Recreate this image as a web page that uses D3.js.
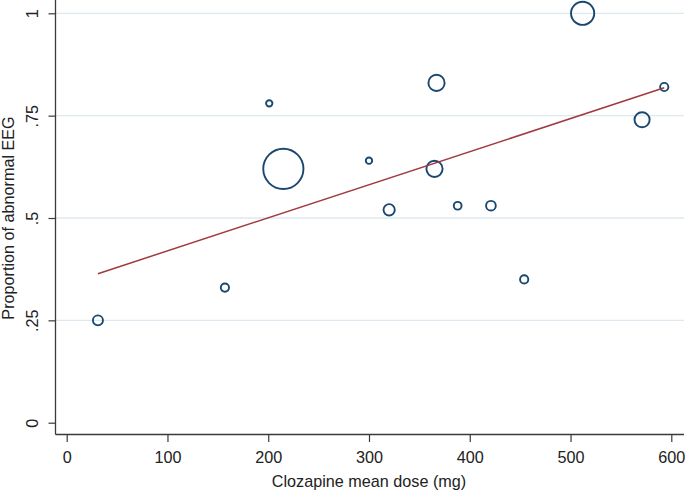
<!DOCTYPE html>
<html>
<head>
<meta charset="utf-8">
<script src="https://cdn.jsdelivr.net/npm/d3@7"></script>
<style>
  html, body { margin: 0; padding: 0; background: #fff; }
  svg { display: block; font-family: "Liberation Sans", Arial, Helvetica, sans-serif; }
</style>
</head>
<body>
<svg id="chart" width="685" height="492"></svg>
<script>
// Data
const doses       = [31, 157, 201, 215, 300, 320, 365, 367, 388, 421, 454, 512, 571, 593];
const proportions = [0.25, 0.33, 0.78, 0.62, 0.64, 0.52, 0.62, 0.83, 0.53, 0.53, 0.35, 1.0, 0.74, 0.82];
const weights     = [15, 10, 6, 240, 6, 19, 39, 39, 9, 14, 10, 80, 34, 10];
const fitX        = [31, 593];
const fitY        = [0.364, 0.818];
const xTicks      = [0, 100, 200, 300, 400, 500, 600];
const yTicks      = [0, 0.25, 0.5, 0.75, 1];
const yTickLabels = ["0", ".25", ".5", ".75", "1"];
const yGridTicks  = [0.25, 0.5, 0.75, 1];

const svg = d3.select("#chart");
const axisX0 = 55.5, axisRight = 684, axisY0 = 434.5, axisTop = 0;
const fs = 16.2;

const x = d3.scaleLinear().domain([0, 600]).range([66.7, 671.3]);
const y = d3.scaleLinear().domain([0, 1]).range([422.7, 13.3]);
const r = d3.scaleSqrt().domain([0, 240]).range([0, 20.1]);

const axisColor = "#3a3a3a";
const textColor = "#222";

// gridlines
svg.append("g").selectAll("line").data(yGridTicks).join("line")
  .attr("x1", axisX0).attr("x2", axisRight)
  .attr("y1", d => y(d)).attr("y2", d => y(d))
  .attr("stroke", "#dde9ee").attr("stroke-width", 1.3);

// y axis
const yAxis = d3.axisLeft(y).tickValues(yTicks)
  .tickFormat((d, i) => yTickLabels[i]).tickSizeOuter(0).tickSize(7).tickPadding(10);
const gy = svg.append("g").attr("transform", `translate(${axisX0},0)`).call(yAxis);
gy.select(".domain").remove();
gy.selectAll(".tick line").attr("stroke", axisColor).attr("stroke-width", 1.2);
gy.selectAll(".tick text")
  .attr("font-size", fs).attr("fill", textColor)
  .attr("text-anchor", "middle")
  .attr("transform", `translate(${-17.5},0) rotate(-90)`)
  .attr("x", 0).attr("y", 0).attr("dy", 0);

svg.append("line").attr("x1", axisX0).attr("x2", axisX0)
  .attr("y1", axisTop).attr("y2", axisY0)
  .attr("stroke", axisColor).attr("stroke-width", 1.3);

// x axis
const xAxis = d3.axisBottom(x).tickValues(xTicks).tickFormat(d3.format("d"))
  .tickSizeOuter(0).tickSize(7.5).tickPadding(10);
const gx = svg.append("g").attr("transform", `translate(0,${axisY0})`).call(xAxis);
gx.select(".domain").remove();
gx.selectAll(".tick line").attr("stroke", axisColor).attr("stroke-width", 1.2);
gx.selectAll(".tick text").attr("font-size", fs).attr("fill", textColor)
  .attr("dy", null).attr("y", 28.5);

svg.append("line").attr("x1", axisX0).attr("x2", axisRight)
  .attr("y1", axisY0).attr("y2", axisY0)
  .attr("stroke", axisColor).attr("stroke-width", 1.3);

// axis titles
svg.append("text").attr("x", (x(0) + x(600)) / 2).attr("y", 486.5)
  .attr("text-anchor", "middle").attr("font-size", fs).attr("fill", textColor)
  .text("Clozapine mean dose (mg)");

svg.append("text")
  .attr("transform", `translate(14,${(y(0) + y(1)) / 2}) rotate(-90)`)
  .attr("text-anchor", "middle").attr("font-size", fs).attr("fill", textColor)
  .text("Proportion of abnormal EEG");

// bubbles
const pts = doses.map((d, i) => ({ x: d, y: proportions[i], w: weights[i] }));
svg.append("g").selectAll("circle").data(pts).join("circle")
  .attr("cx", d => x(d.x)).attr("cy", d => y(d.y)).attr("r", d => r(d.w))
  .attr("fill", "none").attr("stroke", "#1a476f").attr("stroke-width", 1.9);

// fitted line
const fit = fitX.map((d, i) => [d, fitY[i]]);
svg.append("path").datum(fit)
  .attr("d", d3.line().x(d => x(d[0])).y(d => y(d[1])))
  .attr("fill", "none").attr("stroke", "#a03a40").attr("stroke-width", 1.5);
</script>
</body>
</html>
